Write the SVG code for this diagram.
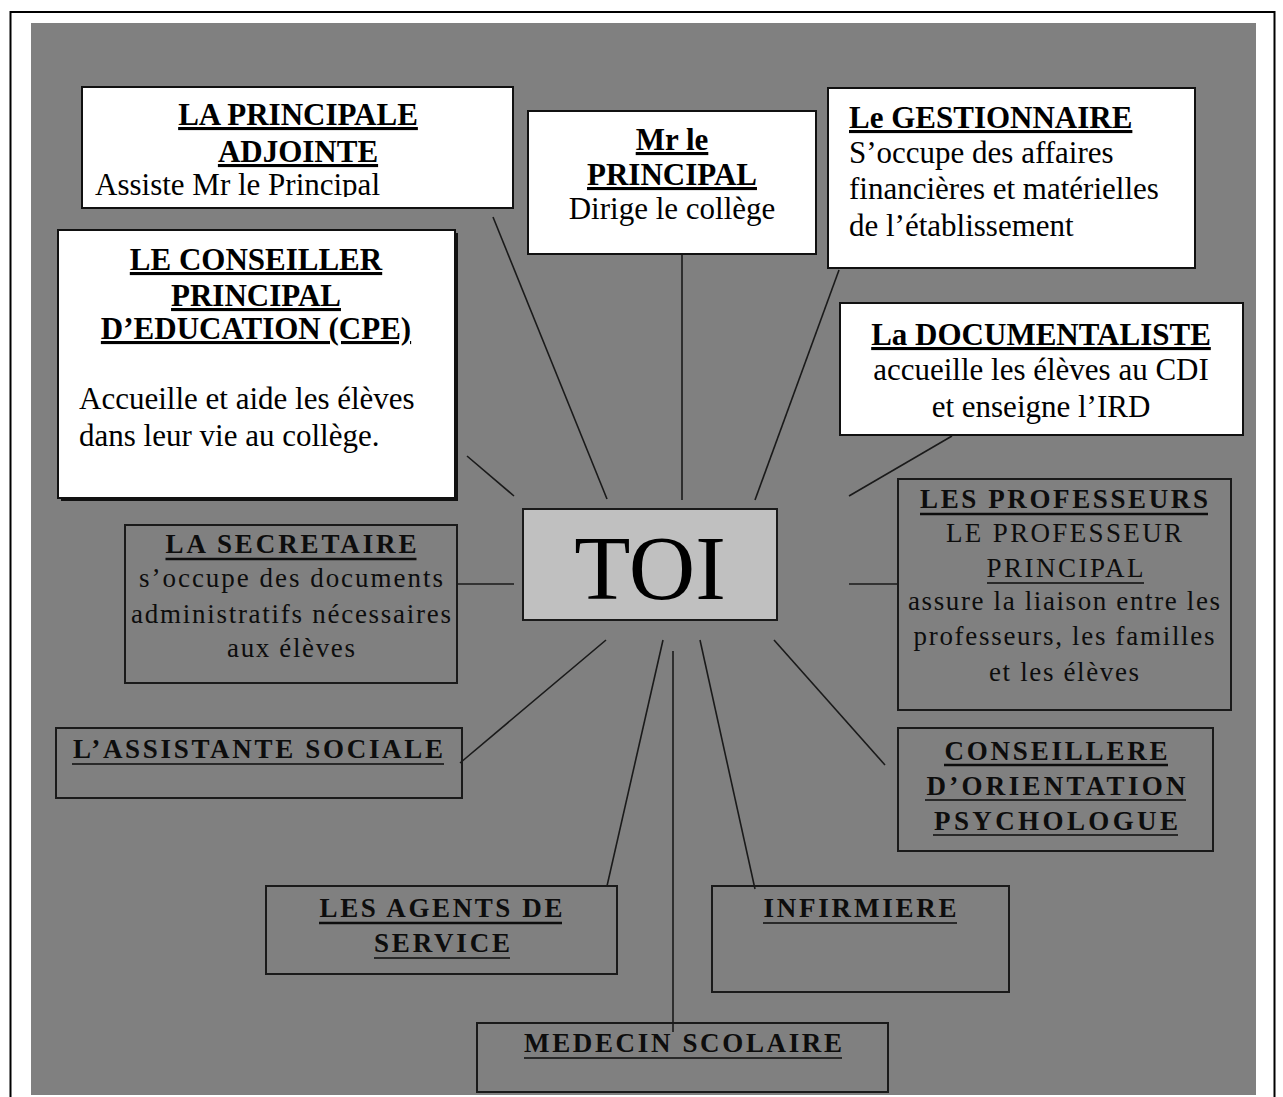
<svg xmlns="http://www.w3.org/2000/svg" width="1283" height="1097" viewBox="0 0 1283 1097">
<style>
.wbox{fill:#ffffff;stroke:#111;stroke-width:2}
.gbox{fill:none;stroke:#1a1a1a;stroke-width:2}
.w{font-family:"Liberation Serif","Times New Roman",serif;font-size:31px;fill:#000}
.wt{font-weight:bold;text-decoration:underline;text-decoration-thickness:3px}
.g{font-family:"Liberation Serif","Times New Roman",serif;font-size:27px;fill:#0d0d0d}
.gt{font-weight:bold}
.c{text-anchor:middle}
.ul{stroke:#0d0d0d;stroke-width:2.6}
.ul2{stroke:#0d0d0d;stroke-width:1.6}
.conn line{stroke:#1a1a1a;stroke-width:1.6}
</style>
<defs>
<clipPath id="clipAdj"><rect x="82" y="87" width="431" height="110"/></clipPath>
</defs>
<rect x="10.5" y="12" width="1264" height="1100" fill="#ffffff" stroke="#000" stroke-width="2"/>
<rect x="31" y="23" width="1225" height="1072" fill="#808080"/>

<g id="connectors" class="conn">
<line x1="493" y1="217" x2="607" y2="499"/>
<line x1="467" y1="456" x2="514" y2="496"/>
<line x1="682" y1="254" x2="682" y2="500"/>
<line x1="839" y1="270" x2="755" y2="500"/>
<line x1="952" y1="436" x2="849" y2="496"/>
<line x1="457" y1="584" x2="514" y2="584"/>
<line x1="849" y1="584" x2="898" y2="584"/>
<line x1="606" y1="640" x2="460" y2="763"/>
<line x1="663" y1="640" x2="607" y2="886"/>
<line x1="673" y1="651" x2="673" y2="1032"/>
<line x1="700" y1="640" x2="755" y2="889"/>
<line x1="774" y1="640" x2="885" y2="765"/>
</g>

<g id="principale-adjointe">
<rect class="wbox" x="82" y="87" width="431" height="121"/>
<g clip-path="url(#clipAdj)">
<text class="w wt c" x="298" y="125">LA PRINCIPALE</text>
<text class="w wt c" x="298" y="162">ADJOINTE</text>
<text class="w" x="95" y="195">Assiste Mr le Principal</text>
</g>
</g>

<g id="principal">
<rect class="wbox" x="528" y="111" width="288" height="143"/>
<text class="w wt c" x="672" y="150">Mr le</text>
<text class="w wt c" x="672" y="185">PRINCIPAL</text>
<text class="w c" x="672" y="219">Dirige le collège</text>
</g>

<g id="gestionnaire">
<rect class="wbox" x="828" y="88" width="367" height="180"/>
<text class="w wt" x="849" y="128">Le GESTIONNAIRE</text>
<text class="w" x="849" y="163">S’occupe des affaires</text>
<text class="w" x="849" y="199">financières et matérielles</text>
<text class="w" x="849" y="236">de l’établissement</text>
</g>

<g id="documentaliste">
<rect class="wbox" x="840" y="303" width="403" height="132"/>
<text class="w wt c" x="1041" y="345">La DOCUMENTALISTE</text>
<text class="w c" x="1041" y="380">accueille les élèves au CDI</text>
<text class="w c" x="1041" y="417">et enseigne l’IRD</text>
</g>

<g id="cpe">
<rect x="61" y="233" width="397" height="268" fill="#111"/>
<rect class="wbox" x="58" y="230" width="397" height="268"/>
<text class="w wt c" x="256" y="270">LE CONSEILLER</text>
<text class="w wt c" x="256" y="306">PRINCIPAL</text>
<text class="w wt c" x="256" y="339">D’EDUCATION (CPE)</text>
<text class="w" x="79" y="409">Accueille et aide les élèves</text>
<text class="w" x="79" y="446">dans leur vie au collège.</text>
</g>

<g id="toi">
<rect x="523" y="509" width="254" height="111" fill="#c0c0c0" stroke="#1a1a1a" stroke-width="2"/>
<text x="650" y="599" text-anchor="middle" font-family="Liberation Serif, Times New Roman, serif" font-size="92" fill="#000">TOI</text>
</g>

<g id="secretaire">
<rect class="gbox" x="125" y="525" width="332" height="158"/>
<text class="g gt c" x="291" y="553" textLength="251" lengthAdjust="spacing">LA SECRETAIRE</text>
<line class="ul" x1="165.5" y1="559" x2="416.5" y2="559"/>
<text class="g c" x="291" y="587" textLength="304" lengthAdjust="spacing">s’occupe des documents</text>
<text class="g c" x="291" y="623" textLength="320" lengthAdjust="spacing">administratifs nécessaires</text>
<text class="g c" x="291" y="657" textLength="128" lengthAdjust="spacing">aux élèves</text>
</g>

<g id="professeurs">
<rect class="gbox" x="898" y="479" width="333" height="231"/>
<text class="g gt c" x="1064" y="508" textLength="288" lengthAdjust="spacing">LES PROFESSEURS</text>
<line class="ul" x1="920" y1="514" x2="1208" y2="514"/>
<text class="g c" x="1064" y="542" textLength="236" lengthAdjust="spacing">LE PROFESSEUR</text>
<text class="g c" x="1065" y="577" textLength="157" lengthAdjust="spacing">PRINCIPAL</text>
<line class="ul2" x1="987" y1="583" x2="1144" y2="583"/>
<text class="g c" x="1064" y="610" textLength="312" lengthAdjust="spacing">assure la liaison entre les</text>
<text class="g c" x="1064" y="645" textLength="301" lengthAdjust="spacing">professeurs, les familles</text>
<text class="g c" x="1064" y="681" textLength="150" lengthAdjust="spacing">et les élèves</text>
</g>

<g id="assistante-sociale">
<rect class="gbox" x="56" y="728" width="406" height="70"/>
<text class="g gt c" x="258" y="758" textLength="370" lengthAdjust="spacing">L’ASSISTANTE SOCIALE</text>
<line class="ul2" x1="72" y1="764" x2="444" y2="764"/>
</g>

<g id="conseillere-orientation">
<rect class="gbox" x="898" y="728" width="315" height="123"/>
<text class="g gt c" x="1056" y="760" textLength="223" lengthAdjust="spacing">CONSEILLERE</text>
<line class="ul" x1="944" y1="765" x2="1168" y2="765"/>
<text class="g gt c" x="1056" y="795" textLength="259" lengthAdjust="spacing">D’ORIENTATION</text>
<line class="ul2" x1="925" y1="800" x2="1186" y2="800"/>
<text class="g gt c" x="1056" y="830" textLength="244" lengthAdjust="spacing">PSYCHOLOGUE</text>
<line class="ul2" x1="933" y1="835" x2="1178" y2="835"/>
</g>

<g id="agents-service">
<rect class="gbox" x="266" y="886" width="351" height="88"/>
<text class="g gt c" x="441" y="917" textLength="243" lengthAdjust="spacing">LES AGENTS DE</text>
<line class="ul" x1="319" y1="923" x2="562" y2="923"/>
<text class="g gt c" x="442" y="952" textLength="136" lengthAdjust="spacing">SERVICE</text>
<line class="ul2" x1="374" y1="958" x2="510" y2="958"/>
</g>

<g id="infirmiere">
<rect class="gbox" x="712" y="886" width="297" height="106"/>
<text class="g gt c" x="860" y="917" textLength="193" lengthAdjust="spacing">INFIRMIERE</text>
<line class="ul2" x1="763" y1="923" x2="957" y2="923"/>
</g>

<g id="medecin-scolaire">
<rect class="gbox" x="477" y="1023" width="411" height="69"/>
<text class="g gt c" x="683" y="1052" textLength="318" lengthAdjust="spacing">MEDECIN SCOLAIRE</text>
<line class="ul2" x1="524" y1="1058" x2="842" y2="1058"/>
</g>
</svg>
